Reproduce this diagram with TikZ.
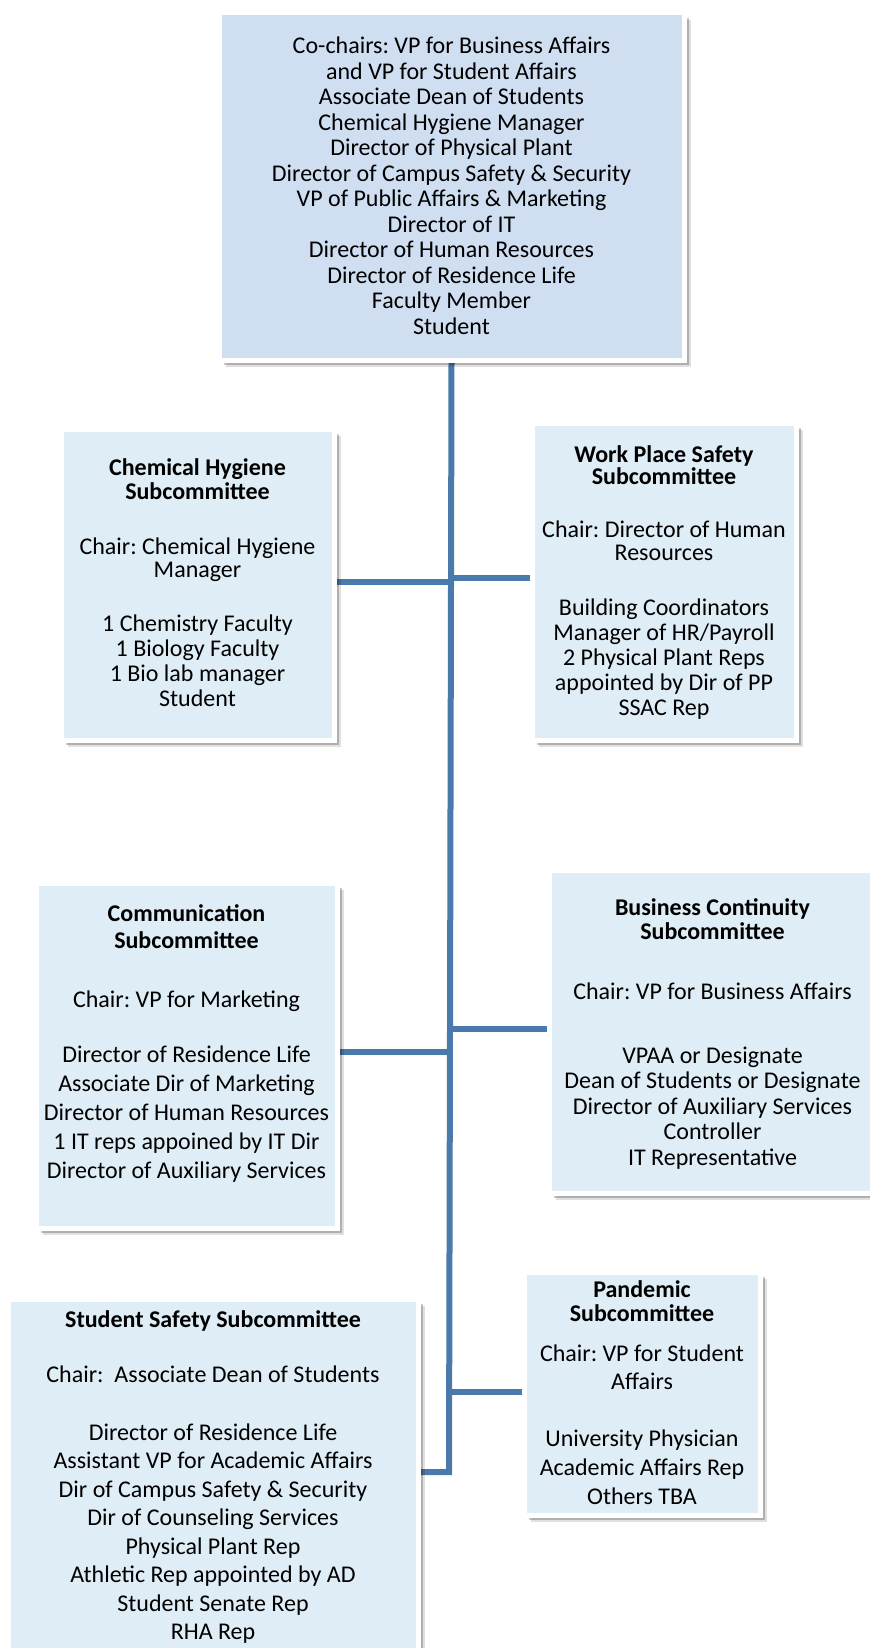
\documentclass[tikz,border=0pt]{standalone}
\usepackage{fontspec}
\setmainfont{Carlito}
\usepackage{xcolor}
\usepackage{tikz}
\usetikzlibrary{shadows,positioning}
\pgfdeclarelayer{bg}
\pgfsetlayers{bg,main}
\frenchspacing

\definecolor{chairfill}{RGB}{207,223,241}
\definecolor{subfill}{RGB}{223,237,246}
\definecolor{linkblue}{RGB}{74,122,171}

% width, height, top gap, line distance, text
\newcommand{\members}[5]{\parbox[c][#2][t]{#1}{\centering\setlength{\baselineskip}{#4}\vspace*{#3}#5\par}}

\begin{document}
\begin{tikzpicture}[
			x=0.5pt, y=-0.5pt,
			orgbox/.style={draw=white, line width=2.5pt, inner sep=0pt, anchor=north west,
				font=\fontsize{12pt}{12.5pt}\selectfont,
				drop shadow={shadow xshift=3.5pt, shadow yshift=-3.5pt, opacity=0.12, fill=black},
				drop shadow={shadow xshift=2.5pt, shadow yshift=-2.5pt, opacity=0.22, fill=black}},
			chairbox/.style={orgbox, fill=chairfill},
			subbox/.style={orgbox, fill=subfill},
			link/.style={draw=linkblue, line width=3pt}
			]

				\useasboundingbox (0,0) rectangle (869,1648);

				\node[chairbox] (cochairs) at (216.5,10.5) {\members{232.5pt}{173.5pt}{12pt}{12.75pt}{%
					Co-chairs: VP for Business Affairs\\ and VP for Student Affairs\\ Associate Dean of Students\\
					Chemical Hygiene Manager\\ Director of Physical Plant\\ Director of Campus Safety \& Security\\
					VP of Public Affairs \& Marketing\\ Director of IT\\ Director of Human Resources\\
					Director of Residence Life\\ Faculty Member\\ Student}};

				\node[subbox] (chemical) at (58.5,426.5) {\members{136.5pt}{155.5pt}{15pt}{12.5pt}{%
					\textbf{Chemical Hygiene\\[-0.5pt] Subcommittee}\\[15pt]
					Chair: Chemical Hygiene\\[-1pt] Manager\\[14.5pt]
					1 Chemistry Faculty\\ 1 Biology Faculty\\ 1 Bio lab manager\\ Student}};

				\node[subbox] (workplace) at (529.5,420.5) {\members{132pt}{158.5pt}{11.25pt}{12.5pt}{%
					\textbf{Work Place Safety\\[-1.5pt] Subcommittee}\\[14pt]
					Chair: Director of Human\\[-1pt] Resources\\[15pt]
					Building Coordinators\\ Manager of HR/Payroll\\ 2 Physical Plant Reps\\
					appointed by Dir of PP\\ SSAC Rep}};

				\node[subbox] (communication) at (33.5,880.5) {\members{150.5pt}{172.5pt}{11pt}{14.5pt}{%
					\textbf{Communication\\[-1pt] Subcommittee}\\[15pt]
					Chair: VP for Marketing\\[13pt]
					Director of Residence Life\\ Associate Dir of Marketing\\ Director of Human Resources\\
					1 IT reps appoined by IT Dir\\ Director of Auxiliary Services}};

				\node[subbox] (continuity) at (546.5,867.5) {\members{163.5pt}{161.5pt}{14.25pt}{12.75pt}{%
					\textbf{Business Continuity\\[-0.75pt] Subcommittee}\\[17.25pt]
					Chair: VP for Business Affairs\\[19.25pt]
					VPAA or Designate\\ Dean of Students or Designate\\ Director of Auxiliary Services\\
					Controller\\ IT Representative}};

				\node[subbox] (pandemic) at (521.5,1269.5) {\members{118pt}{121.5pt}{4.25pt}{14.5pt}{%
					\textbf{Pandemic\\[-2.5pt] Subcommittee}\\[5.5pt]
					Chair: VP for Student\\[-0.5pt] Affairs\\[14pt]
					University Physician\\ Academic Affairs Rep\\ Others TBA}};

				\node[subbox] (studentsafety) at (5.5,1296.5) {\members{205pt}{181.75pt}{5.75pt}{14.25pt}{%
					\textbf{Student Safety Subcommittee}\\[13.25pt]
					Chair:~ Associate Dean of Students\\[14.75pt]
					Director of Residence Life\\ Assistant VP for Academic Affairs\\ Dir of Campus Safety \& Security\\
					Dir of Counseling Services\\ Physical Plant Rep\\ Athletic Rep appointed by AD\\
					Student Senate Rep\\ RHA Rep}};

				\coordinate (spineend) at (449,1472);
				\coordinate (jchem) at (449,582);
				\coordinate (jwork) at (449,578);
				\coordinate (jcomm) at (449,1052);
				\coordinate (jcont) at (449,1029);
				\coordinate (jpand) at (449,1392);

				\begin{pgfonlayer}{bg}
					\draw[link] (cochairs.south) -- (spineend) -- (spineend -| studentsafety.east);
					\draw[link] (jchem -| chemical.east) -- (jchem);
					\draw[link] (jwork) -- (jwork -| workplace.west);
					\draw[link] (jcomm -| communication.east) -- (jcomm);
					\draw[link] (jcont) -- (jcont -| continuity.west);
					\draw[link] (jpand) -- (jpand -| pandemic.west);
				\end{pgfonlayer}

			\end{tikzpicture}
\end{document}
